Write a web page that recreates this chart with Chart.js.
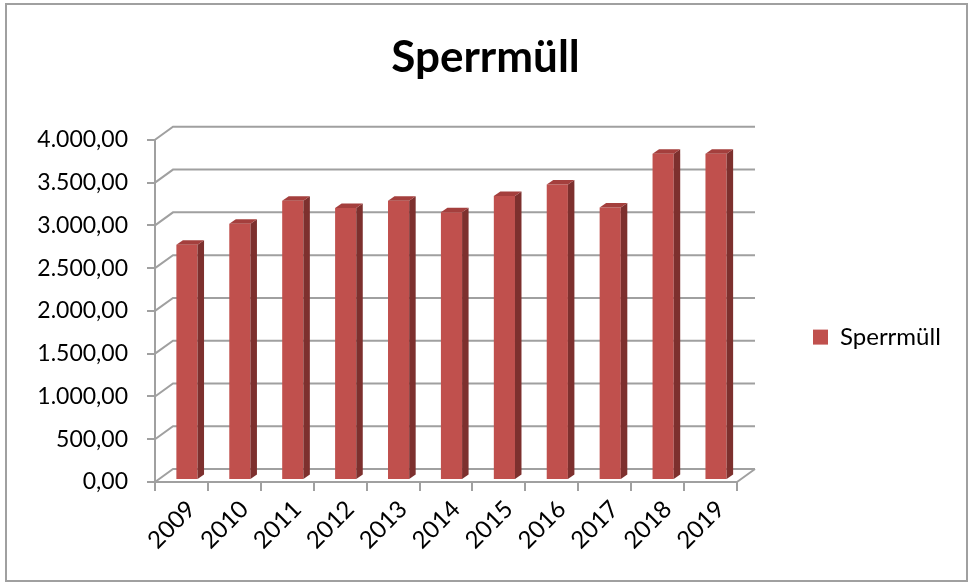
<!DOCTYPE html>
<html>
<head>
<meta charset="utf-8">
<script src="https://cdn.jsdelivr.net/npm/chart.js@4"></script>
<style>
  html, body { margin: 0; padding: 0; background: #fff; }
  #wrap { position: relative; width: 968px; height: 583px; }
  #frame { position: absolute; left: 5px; top: 3px; width: 959px; height: 575px; border: 2px solid #a0a0a0; pointer-events: none; }
</style>
</head>
<body>
<div id="wrap">
  <canvas id="chart"></canvas>
  <div id="frame"></div>
</div>
<script>
// ===== Sperrmüll chart =====
const years = ['2009', '2010', '2011', '2012', '2013', '2014', '2015', '2016', '2017', '2018', '2019'];
const sperrmuell = [2750, 2995, 3265, 3180, 3265, 3130, 3320, 3455, 3185, 3815, 3815];
const yMin = 0, yMax = 4000, yStep = 500;

const GRID = '#a0a0a0';
const DEPTH = { dx: 18, dy: -13 };      // back wall offset
const BAR3D = { dx: 6.5, dy: -4.5, sx: 5.5, sy: -2 };

function deNum(v) {
  const [i, f] = v.toFixed(2).split('.');
  return i.replace(/\B(?=(\d{3})+(?!\d))/g, '.') + ',' + f;
}

// fake 3d: back wall grid + bar side/top faces
const pseudo3d = {
  id: 'pseudo3d',
  beforeDatasetsDraw(chart) {
    const { ctx, chartArea: a, scales: { y } } = chart;
    ctx.save();
    ctx.strokeStyle = GRID;
    ctx.lineWidth = 2;
    ctx.beginPath();
    for (let v = yMin; v <= yMax; v += yStep) {
      const py = y.getPixelForValue(v);
      ctx.moveTo(a.left, py);
      ctx.lineTo(a.left + DEPTH.dx, py + DEPTH.dy);
      ctx.lineTo(a.right + DEPTH.dx, py + DEPTH.dy);
    }
    ctx.moveTo(a.right, a.bottom);
    ctx.lineTo(a.right + DEPTH.dx, a.bottom + DEPTH.dy);
    ctx.stroke();
    ctx.restore();
    ctx.save();
    ctx.translate(BAR3D.sx, BAR3D.sy);
  },
  afterDatasetsDraw(chart) {
    const { ctx } = chart;
    chart.getDatasetMeta(0).data.forEach(bar => {
      const l = bar.x - bar.width / 2, r = bar.x + bar.width / 2;
      const t = bar.y, b = bar.base;
      ctx.fillStyle = '#7d302e';
      ctx.beginPath();
      ctx.moveTo(r, t);
      ctx.lineTo(r + BAR3D.dx, t + BAR3D.dy);
      ctx.lineTo(r + BAR3D.dx, b + BAR3D.dy);
      ctx.lineTo(r, b);
      ctx.closePath();
      ctx.fill();
      ctx.fillStyle = '#a43f3d';
      ctx.beginPath();
      ctx.moveTo(l, t);
      ctx.lineTo(l + BAR3D.dx, t + BAR3D.dy);
      ctx.lineTo(r + BAR3D.dx, t + BAR3D.dy);
      ctx.lineTo(r, t);
      ctx.closePath();
      ctx.fill();
    });
    ctx.restore();
  }
};

Chart.defaults.font.family = 'Lato';
Chart.defaults.color = '#000';

new Chart(document.getElementById('chart'), {
  type: 'bar',
  data: {
    labels: years,
    datasets: [{
      label: 'Sperrmüll',
      data: sperrmuell,
      backgroundColor: '#c0504d',
      borderWidth: 0,
      barPercentage: 0.4,
      categoryPercentage: 1,
    }],
  },
  options: {
    responsive: true,
    maintainAspectRatio: false,
    animation: false,
    devicePixelRatio: 1,
    layout: { padding: { left: 28, right: 25, top: 0, bottom: 0 } },
    plugins: {
      title: {
        display: true,
        text: 'Sperrmüll',
        font: { size: 44, weight: 'bold' },
        padding: { top: 31, bottom: 56 },
      },
      legend: {
        position: 'right',
        maxWidth: 140,
        title: { display: true, text: '', font: { size: 1 }, padding: { top: 45, bottom: 45 } },
        labels: { boxWidth: 15, boxHeight: 15, padding: 10, font: { size: 24 } },
      },
      tooltip: { enabled: false },
    },
    scales: {
      x: {
        grid: { offset: true, drawOnChartArea: false, tickLength: 9, color: GRID, lineWidth: 2 },
        border: { display: true, color: GRID, width: 2 },
        ticks: { minRotation: 45, maxRotation: 45, padding: 4, labelOffset: 10, font: { size: 24 } },
        afterFit: s => { s.height = 101; },
      },
      y: {
        min: yMin,
        max: yMax,
        ticks: { stepSize: yStep, padding: 19, font: { size: 23 }, callback: v => deNum(v) },
        grid: { drawOnChartArea: false, tickLength: 8, color: GRID, lineWidth: 2 },
        border: { display: true, color: GRID, width: 2 },
        afterFit: s => { s.width = 127; },
      },
      spacer: {
        type: 'linear',
        position: 'right',
        display: true,
        ticks: { display: false },
        grid: { display: false },
        border: { display: false },
        afterFit: s => { s.width = 66; },
      },
    },
  },
  plugins: [pseudo3d],
});
</script>
</body>
</html>
